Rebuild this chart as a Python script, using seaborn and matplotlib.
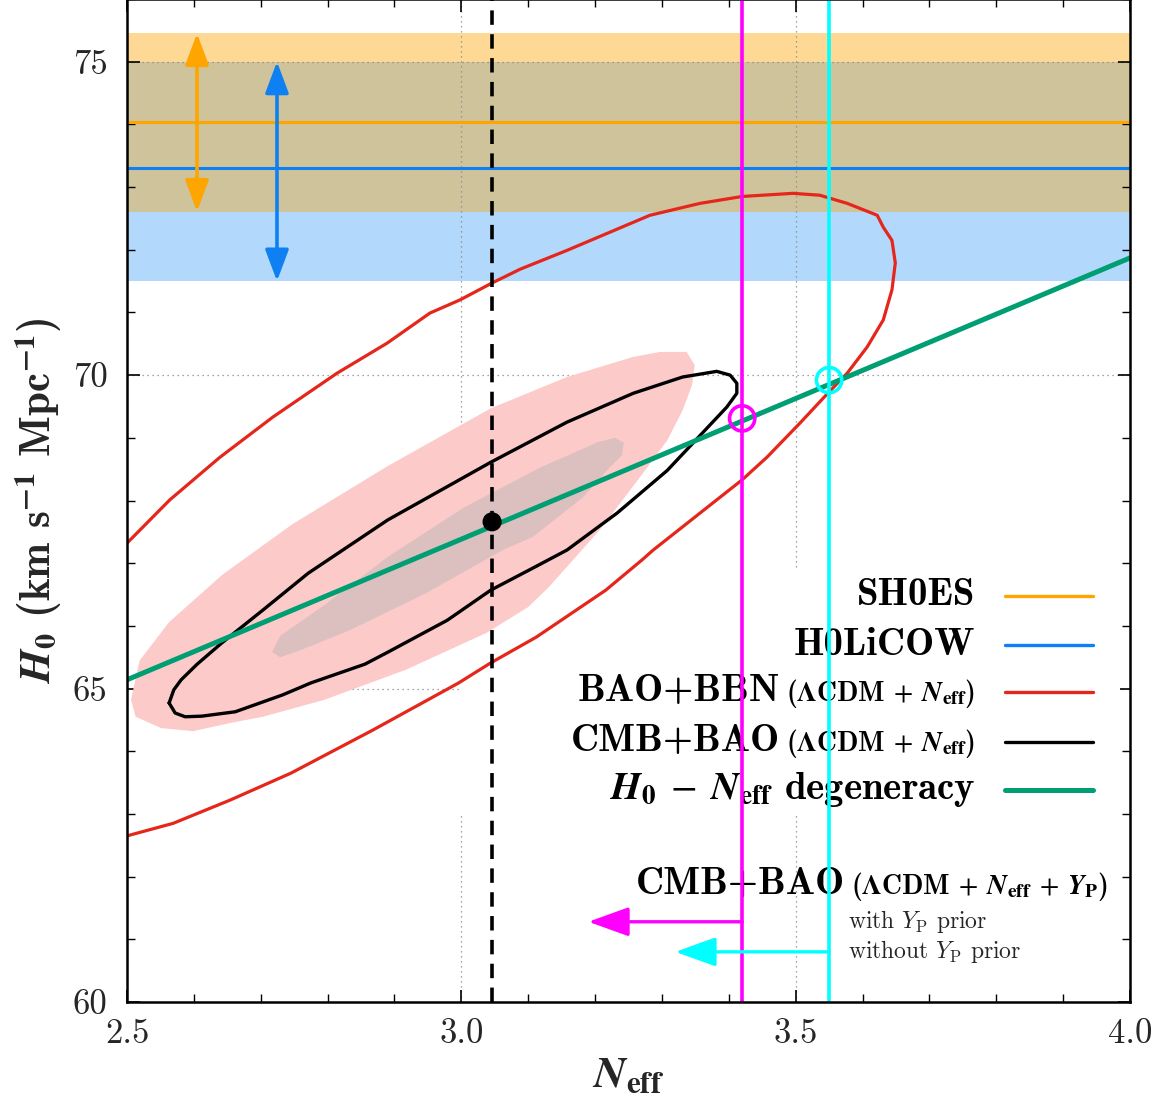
import numpy as np
import matplotlib
matplotlib.use('Agg')
import matplotlib.pyplot as plt
import seaborn as sns
from matplotlib.offsetbox import TextArea, HPacker, AnchoredOffsetbox
from matplotlib.patches import Rectangle
from matplotlib.ticker import MultipleLocator

# local H0 measurements (value, lower err, upper err)
shoes_h0 = 74.03
shoes_err = [1.42, 1.42]
holicow_h0 = 73.3
holicow_err = [1.8, 1.7]

# best fit CMB+BAO and the standard Neff
neff_std = 3.046
h0_bestfit = 67.66

# CMB+BAO (LCDM + Neff + YP) upper limits, with / without YP prior
neff_limits = [3.42, 3.55]
h0_limits = [69.31, 69.92]

# H0 - Neff degeneracy line (end points)
degen_neff = [2.5, 4.0]
degen_h0 = [65.14, 71.87]

# BAO+BBN contour
bao_bbn_neff = [2.500, 2.564, 2.639, 2.718, 2.814, 2.889, 2.953, 2.998, 3.046, 3.088,
                3.158, 3.282, 3.357, 3.420, 3.496, 3.536, 3.577, 3.622, 3.631, 3.644,
                3.649, 3.644, 3.631, 3.607, 3.577, 3.548, 3.506, 3.457, 3.420, 3.357,
                3.287, 3.270, 3.216, 3.112, 3.044, 2.996, 2.868, 2.745, 2.654, 2.569, 2.500]
bao_bbn_h0 = [67.32, 68.01, 68.69, 69.33, 70.03, 70.51, 70.99, 71.20, 71.47, 71.69,
              71.99, 72.55, 72.74, 72.85, 72.90, 72.87, 72.74, 72.55, 72.36, 72.15,
              71.79, 71.36, 70.88, 70.45, 70.03, 69.71, 69.23, 68.69, 68.33, 67.80,
              67.21, 67.05, 66.57, 65.82, 65.41, 65.09, 64.34, 63.65, 63.22, 62.85, 62.65]

# CMB+BAO (LCDM + Neff) 2 sigma contour
cmb_bao_neff = [2.563, 2.570, 2.581, 2.605, 2.642, 2.703, 2.771, 2.890, 3.044, 3.158,
                3.257, 3.331, 3.382, 3.402, 3.412, 3.412, 3.397, 3.367, 3.308, 3.233,
                3.158, 3.112, 3.044, 2.979, 2.890, 2.856, 2.775, 2.733, 2.662, 2.612,
                2.587, 2.572, 2.563]
cmb_bao_h0 = [64.77, 64.98, 65.14, 65.39, 65.73, 66.25, 66.84, 67.69, 68.61, 69.25,
              69.71, 69.97, 70.06, 70.00, 69.87, 69.71, 69.49, 69.15, 68.48, 67.80,
              67.21, 66.95, 66.57, 66.09, 65.58, 65.39, 65.09, 64.90, 64.63, 64.56,
              64.55, 64.61, 64.77]

# filled regions (outer 2 sigma, inner 1 sigma)
outer_neff = [2.506, 2.519, 2.563, 2.642, 2.747, 2.890, 3.044, 3.158, 3.257, 3.297,
              3.337, 3.349, 3.345, 3.331, 3.308, 3.267, 3.207, 3.131, 3.100, 3.038,
              2.917, 2.795, 2.703, 2.654, 2.599, 2.551, 2.513]
outer_h0 = [64.82, 65.45, 66.06, 66.81, 67.62, 68.55, 69.47, 69.97, 70.29, 70.37,
            70.37, 70.16, 69.84, 69.44, 68.96, 68.37, 67.53, 66.62, 66.30, 65.89,
            65.30, 64.82, 64.55, 64.45, 64.32, 64.37, 64.55]
inner_neff = [2.717, 2.729, 2.795, 2.890, 3.004, 3.119, 3.204, 3.230, 3.243, 3.240,
              3.222, 3.182, 3.107, 3.062, 2.947, 2.833, 2.759, 2.729]
inner_h0 = [65.58, 65.84, 66.33, 67.10, 67.89, 68.53, 68.93, 69.00, 68.92, 68.72,
            68.53, 68.05, 67.42, 67.21, 66.52, 65.93, 65.61, 65.50]

c_orange = '#ffa500'
c_blue = '#0f80f2'
c_red = '#e5261b'
c_green = '#009e73'

sns.set_theme(style='ticks')
plt.rcParams['font.family'] = ['cmr10', 'DejaVu Serif']
plt.rcParams['mathtext.fontset'] = 'cm'
plt.rcParams['axes.unicode_minus'] = False
plt.rcParams['axes.formatter.use_mathtext'] = True

fig = plt.figure(figsize=(11.62, 10.97), dpi=100)
ax = fig.add_axes([127 / 1162, 95 / 1097, 1003 / 1162, 1003 / 1097])
ax.set_xlim(2.5, 4.0)
ax.set_ylim(60, 76)

# H0 bands
ax.axhspan(holicow_h0 - holicow_err[0], holicow_h0 + holicow_err[1], color='#b2d8fb', lw=0, zorder=0.1)
ax.axhspan(shoes_h0 - shoes_err[0], shoes_h0 + shoes_err[1], color='#fdd995', lw=0, zorder=0.1)
ov_lo = max(holicow_h0 - holicow_err[0], shoes_h0 - shoes_err[0])
ov_hi = min(holicow_h0 + holicow_err[1], shoes_h0 + shoes_err[1])
ax.axhspan(ov_lo, ov_hi, color='#cfc39b', lw=0, zorder=0.15)
ax.axhline(shoes_h0, color=c_orange, lw=2.2, zorder=2)
ax.axhline(holicow_h0, color=c_blue, lw=2.2, zorder=2)

for xa, h, e, c in [(2.6047, shoes_h0, shoes_err, c_orange), (2.7243, holicow_h0, holicow_err, c_blue)]:
    ax.annotate('', xy=(xa, h + e[1]), xytext=(xa, h - e[0]),
                arrowprops=dict(arrowstyle='<|-|>,head_length=1.2,head_width=0.45', color=c,
                                lw=2.6, shrinkA=0, shrinkB=0, mutation_scale=16), zorder=3)

# grid and opaque key box
ax.set_axisbelow(True)
ax.grid(True, which='major', ls=(0, (1, 3)), color='#888888', lw=0.9)
ax.add_patch(Rectangle((0.332, 0.186), 0.658, 0.245, transform=ax.transAxes,
                       facecolor='white', edgecolor='none', zorder=0.7))

# filled regions
ax.fill(outer_neff, outer_h0, color='#fdcaca', lw=0, zorder=1)
ax.fill(inner_neff, inner_h0, color='#dcc0c0', lw=0, zorder=1.1)

sns.lineplot(x=bao_bbn_neff, y=bao_bbn_h0, sort=False, estimator=None, color=c_red, lw=2.3, ax=ax, zorder=3)
sns.lineplot(x=cmb_bao_neff, y=cmb_bao_h0, sort=False, estimator=None, color='black', lw=2.4, ax=ax, zorder=3)
sns.lineplot(x=degen_neff, y=degen_h0, sort=False, estimator=None, color=c_green, lw=3.6, ax=ax, zorder=3.5)

ax.axvline(neff_std, color='black', lw=2.6, ls=(0, (4.0, 2.6)), zorder=3.2)
ax.axvline(neff_limits[0], color='#ff00ff', lw=2.6, zorder=4)
ax.axvline(neff_limits[1], color='#00ffff', lw=2.6, zorder=4)

sns.scatterplot(x=[neff_std], y=[h0_bestfit], color='black', s=190, edgecolor='none', ax=ax, zorder=6)
sns.scatterplot(x=neff_limits[:1], y=h0_limits[:1], facecolor='none', edgecolor='#ff00ff',
                s=330, linewidth=2.6, ax=ax, zorder=6)
sns.scatterplot(x=neff_limits[1:], y=h0_limits[1:], facecolor='none', edgecolor='#00ffff',
                s=330, linewidth=2.6, ax=ax, zorder=6)

# upper limit arrows
for xl, ya, c in [(neff_limits[0], 61.28, '#ff00ff'), (neff_limits[1], 60.80, '#00ffff')]:
    ax.annotate('', xy=(xl - 0.23, ya), xytext=(xl, ya),
                arrowprops=dict(arrowstyle='-|>,head_length=1.25,head_width=0.45', color=c,
                                lw=2.4, shrinkA=0, shrinkB=0, mutation_scale=20), zorder=5)


def add_label(parts, x, y, loc='center right'):
    boxes = [TextArea(t, textprops=p) for t, p in parts]
    pack = HPacker(children=boxes, align='baseline', pad=0, sep=4)
    anc = AnchoredOffsetbox(loc=loc, child=pack, bbox_to_anchor=(x, y),
                            bbox_transform=ax.transAxes, frameon=False, pad=0, borderpad=0)
    anc.set_zorder(2.5)
    ax.add_artist(anc)


big = dict(fontsize=28, family='cmb10', color='black', math_fontfamily='stix')
small = dict(fontsize=20, family='cmb10', color='black', math_fontfamily='stix')
paren = r'($\mathbf{\Lambda}$CDM $+$ $\mathbfit{N}_{\mathbf{eff}}$)'

rows = [
    ([('SH0ES', big)], c_orange, 0.4048),
    ([('H0LiCOW', big)], c_blue, 0.3559),
    ([('BAO+BBN', big), (paren, small)], c_red, 0.3091),
    ([('CMB+BAO', big), (paren, small)], 'black', 0.2592),
    ([(r'$\mathbfit{H}_{\mathbf{0}}\;-\;\mathbfit{N}_{\mathbf{eff}}$ degeneracy', big)], c_green, 0.2114),
]
for parts, col, yy in rows:
    add_label(parts, 0.8455, yy)
    ax.plot([0.875, 0.963], [yy, yy], transform=ax.transAxes, color=col,
            lw=3.6 if col == c_green else 2.4, zorder=3)

add_label([('CMB+BAO', big),
           (r'($\mathbf{\Lambda}$CDM $+$ $\mathbfit{N}_{\mathbf{eff}}$ $+$ $\mathbfit{Y}_{\mathbf{P}}$)', small)],
          0.978, 0.1167)
ax.text(0.719, 0.0798, r'with $Y_{\rm P}$ prior', transform=ax.transAxes, fontsize=17,
        ha='left', va='center', zorder=2.5)
ax.text(0.719, 0.0499, r'without $Y_{\rm P}$ prior', transform=ax.transAxes, fontsize=17,
        ha='left', va='center', zorder=2.5)

# axes, ticks
xtick_vals = [2.5, 3.0, 3.5, 4.0]
xtick_labels = ['2.5', '3.0', '3.5', '4.0']
ytick_vals = [60, 65, 70, 75]
ytick_labels = ['60', '65', '70', '75']
ax.set_xticks(xtick_vals, labels=xtick_labels)
ax.set_yticks(ytick_vals, labels=ytick_labels)
ax.xaxis.set_minor_locator(MultipleLocator(0.1))
ax.yaxis.set_minor_locator(MultipleLocator(1))
ax.tick_params(which='both', direction='in', top=True, right=True, labelsize=25, color='black')
ax.tick_params(axis='x', which='major', length=9, width=1.2, pad=12)
ax.tick_params(axis='y', which='major', length=9, width=1.2, pad=14)
ax.tick_params(which='minor', length=6, width=1.0)
for s in ax.spines.values():
    s.set_linewidth(1.8)
    s.set_color('black')
    s.set_zorder(7)

ax.set_xlabel(r'$\mathbfit{N}_{\mathbf{eff}}$', fontsize=32, math_fontfamily='stix', labelpad=4)
ax.set_ylabel(r'$\mathbfit{H}_{\mathbf{0}}$ (km s$^{\mathbf{-1}}$ Mpc$^{\mathbf{-1}}$)', fontsize=31,
              family='cmb10', math_fontfamily='stix', labelpad=6)

fig.savefig('out.png', dpi=100)
